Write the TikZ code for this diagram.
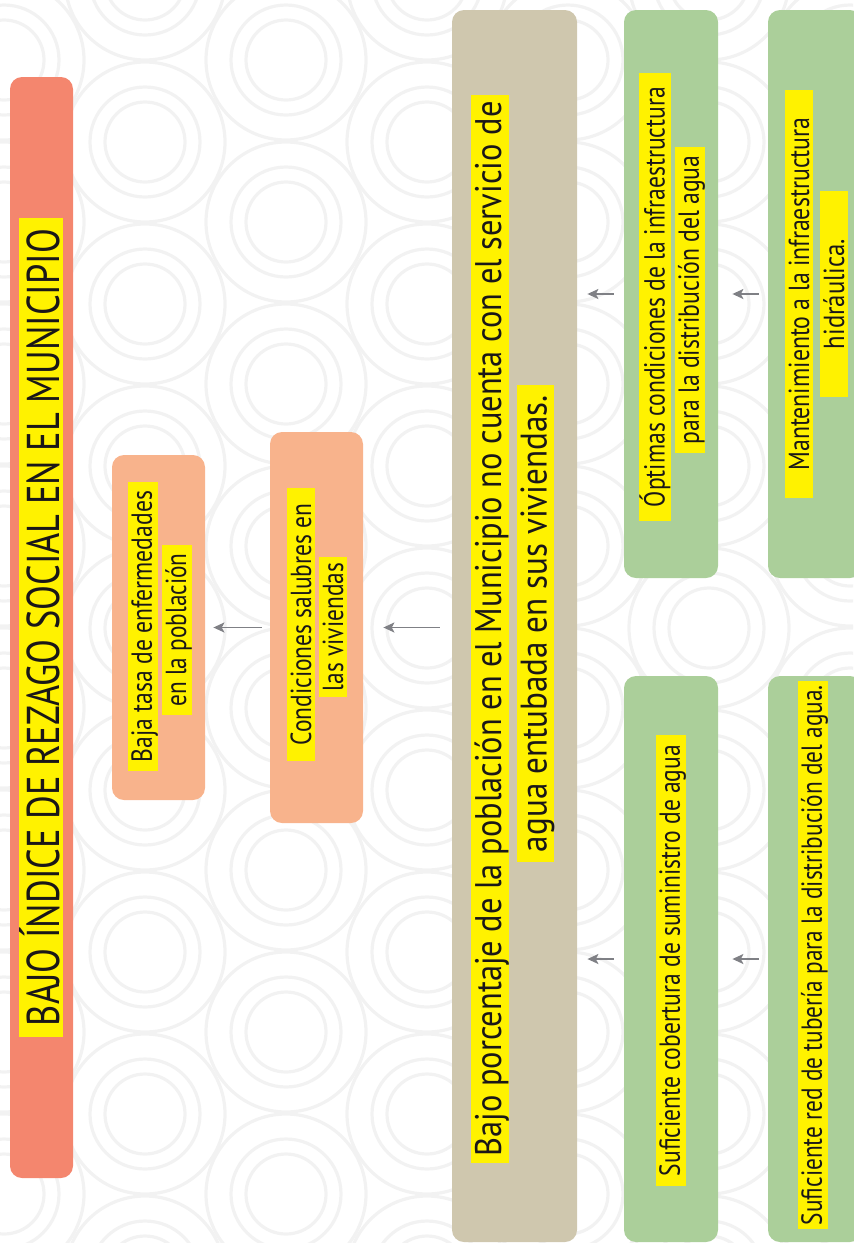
\documentclass[tikz,border=0pt]{standalone}
\usepackage{fontspec}
\setmainfont{PT Sans}
\usepackage{graphicx}
\usetikzlibrary{arrows.meta}
\definecolor{salmon}{HTML}{F4866E}
\definecolor{peach}{HTML}{F8B38C}
\definecolor{tanbox}{HTML}{CFC7AE}
\definecolor{greenbox}{HTML}{ABCF9A}
\definecolor{hly}{HTML}{FFF200}
\definecolor{arrgray}{HTML}{7F8085}
\definecolor{bgring}{HTML}{F2F2F2}
\definecolor{ink}{HTML}{1A1718}
\newlength\hlw
% #1 highlight length, #2 text length, #3 height above baseline, #4 depth, #5 text
\newcommand\hlbox[5]{%
  \settowidth\hlw{#5}%
  \pgfmathsetmacro\hlsx{#2/\hlw}%
  {\setlength\fboxsep{0pt}\colorbox{hly}{\makebox[#1pt][c]{\rule[-#4pt]{0pt}{\dimexpr #3pt+#4pt\relax}\scalebox{\hlsx}[1]{#5}}}}}
\tikzset{
  box/.style={rounded corners=6pt, inner sep=0pt, draw=none},
  txt/.style={rotate=90, inner sep=0pt, text=ink},
  small/.style={txt, font=\fontsize{14.5}{16}\selectfont},
  mid/.style={txt, font=\fontsize{18.5}{20}\selectfont},
  big/.style={txt, font=\fontsize{23}{25}\selectfont},
  arr/.style={draw=arrgray, line width=0.85pt, -{Stealth[length=5.5pt,width=5pt,inset=1.3pt]}},
  ring/.style={draw=bgring, line width=1.6pt}
}
\begin{document}
\begin{tikzpicture}[x=0.5pt,y=-0.5pt]
\useasboundingbox (0,0) rectangle (853,1243);
% background pattern
\begin{scope}
\clip (0,0) rectangle (853,1243);
\foreach \k in {0,...,6}{
  \pgfmathsetmacro\cx{4+141*\k}
  \pgfmathsetmacro\cy{isodd(\k) ? -20 : -102}
  \foreach \j in {0,...,9}{
    \draw[ring] (\cx,\cy+162*\j) circle[radius=20pt];
    \draw[ring] (\cx,\cy+162*\j) circle[radius=27.5pt];
    \draw[ring] (\cx,\cy+162*\j) circle[radius=40pt];
  }
}
\end{scope}
% boxes
\node[box, fill=salmon, minimum width=31.5pt, minimum height=550.5pt] (title) at (41.5,627.5) {};
\node[box, fill=peach, minimum width=46.5pt, minimum height=172.5pt] (baja) at (158.5,627.5) {};
\node[box, fill=peach, minimum width=46.5pt, minimum height=195.5pt] (cond) at (316.5,627.5) {};
\node[box, fill=tanbox, minimum width=62.5pt, minimum height=616pt] (bajo) at (514.5,626) {};
\node[box, fill=greenbox, minimum width=47pt, minimum height=284pt] (opt) at (671,294) {};
\node[box, fill=greenbox, minimum width=47pt, minimum height=284pt] (mant) at (815,294) {};
\node[box, fill=greenbox, minimum width=47pt, minimum height=283pt] (cob) at (671,959) {};
\node[box, fill=greenbox, minimum width=47pt, minimum height=283pt] (red) at (815,959) {};
% texts
\node[big] (titleT) at (41,627.5) {\hlbox{409.5}{398.5}{20.5}{1.5}{BAJO ÍNDICE DE REZAGO SOCIAL EN EL MUNICIPIO}};
\node[small] (bajaA) at (143,626.5) {\hlbox{144.5}{135.5}{12}{2}{Baja tasa de enfermedades}};
\node[small] (bajaB) at (177,630) {\hlbox{85}{76.5}{12}{2}{en la población}};
\node[small] (condA) at (301,624.5) {\hlbox{136.5}{121}{12}{2}{Condiciones salubres en}};
\node[small] (condB) at (333,627) {\hlbox{70}{64}{12}{2}{las viviendas}};
\node[mid] (bajoA) at (490,629) {\hlbox{534}{527.5}{15}{3}{Bajo porcentaje de la población en el Municipio no cuenta con el servicio de}};
\node[mid] (bajoB) at (535.5,623.5) {\hlbox{238.5}{228.5}{15}{3}{agua entubada en sus viviendas.}};
\node[small] (optA) at (655,297) {\hlbox{224}{210}{12}{2}{Óptimas condiciones de la infraestructura}};
\node[small] (optB) at (690,300) {\hlbox{153}{144.5}{12}{2}{para la distribución del agua}};
\node[small] (mantA) at (799,294) {\hlbox{204}{176.5}{12}{2}{Mantenimiento a la infraestructura}};
\node[small] (mantB) at (834,294) {\hlbox{103}{55}{12}{2}{hidráulica.}};
\node[small] (cobT) at (671,960.5) {\hlbox{225.5}{215.5}{12}{2}{Suficiente cobertura de suministro de agua}};
\node[small] (redT) at (813,955) {\hlbox{274}{270}{12}{2}{Suficiente red de tubería para la distribución del agua.}};
% connectors
\draw[arr, shorten <=4pt, shorten >=4pt] (cond.west) -- (baja.east);
\draw[arr, shorten <=6pt, shorten >=10pt] (bajo.west |- cond.east) -- (cond.east);
\draw[arr, shorten <=5pt, shorten >=5pt] (opt.west) -- (opt.west -| bajo.east);
\draw[arr, shorten <=4.5pt, shorten >=7pt] (mant.west) -- (opt.east);
\draw[arr, shorten <=5pt, shorten >=5pt] (cob.west) -- (cob.west -| bajo.east);
\draw[arr, shorten <=4.5pt, shorten >=7pt] (red.west) -- (cob.east);
\end{tikzpicture}
\end{document}
